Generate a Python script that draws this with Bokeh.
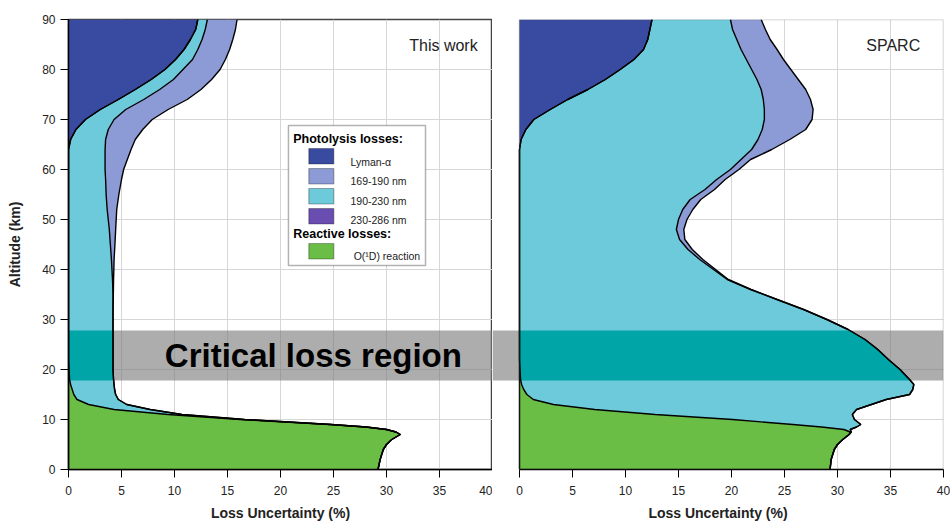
import numpy as np
from bokeh.plotting import figure
from bokeh.models import ColumnDataSource, Range1d, FixedTicker, BoxAnnotation, Label
from bokeh.layouts import row
from bokeh.embed import file_html
from bokeh.resources import INLINE

FONT = "Liberation Sans"

# ---------------- data ----------------
x_ticks = [0, 5, 10, 15, 20, 25, 30, 35, 40]
y_ticks = [0, 10, 20, 30, 40, 50, 60, 70, 80, 90]

# critical loss region (km)
critical_lo = 17.8
critical_hi = 27.8

# ---- "This work" panel ----
alt_this = [0, 2, 4, 5, 6, 7, 7.5, 8, 8.5, 9, 10, 11, 12, 13, 14, 15, 16, 17, 18, 20,
            22, 25, 28, 30, 32, 35, 38, 40, 42, 45, 48, 50, 52, 55, 58, 60, 62, 64, 66,
            68, 70, 72, 74, 76, 78, 80, 82, 84, 86, 88, 90]
this_lyman = [0, 0, 0, 0, 0, 0, 0, 0, 0, 0, 0, 0, 0, 0, 0, 0, 0, 0, 0, 0,
              0, 0, 0, 0, 0, 0, 0, 0, 0, 0, 0, 0, 0, 0, 0, 0, 0, 0, 0.2,
              0.7, 1.6, 3.0, 4.7, 6.3, 7.8, 9.1, 10.1, 10.9, 11.5, 12.0, 12.2]
this_o1d = [29.2, 29.4, 29.7, 30.0, 30.5, 31.3, 30.9, 30.0, 28.0, 24.6, 16.2, 9.4, 4.3, 1.9,
            0.8, 0.5, 0.35, 0.2, 0.1, 0.05,
            0, 0, 0, 0, 0, 0, 0, 0, 0, 0, 0, 0, 0, 0, 0, 0, 0, 0, 0,
            0, 0, 0, 0, 0, 0, 0, 0, 0, 0, 0, 0]
this_190_230 = [0, 0, 0, 0, 0, 0, 0, 0, 0.1, 0.2, 0.4, 1.3, 3.4, 3.6, 3.9, 3.95, 4.0, 4.1, 4.15, 4.15,
                4.2, 4.2, 4.2, 4.2, 4.2, 4.2, 4.15, 4.1, 4.05, 3.95, 3.85, 3.75, 3.65, 3.55, 3.5, 3.45,
                3.45, 3.45, 3.3, 3.05, 2.7, 2.4, 2.4, 2.3, 2.1, 1.7, 1.6, 1.3, 1.1, 0.9, 0.9]
this_169_190 = [0, 0, 0, 0, 0, 0, 0, 0, 0, 0, 0, 0, 0, 0, 0, 0, 0, 0, 0, 0,
                0, 0, 0, 0, 0, 0.03, 0.1, 0.18, 0.25, 0.43, 0.6, 0.75, 0.9, 1.2, 1.5, 1.75,
                2.1, 2.45, 2.8, 3.25, 3.6, 4.0, 4.1, 3.9, 3.6, 3.5, 3.1, 3.0, 2.9, 2.85, 2.8]

# ---- SPARC panel ----
alt_sparc = [0, 2, 4, 5, 6, 7, 7.5, 8, 8.5, 9, 10, 11, 12, 13, 14, 15, 16, 17, 18,
             20, 22, 24, 26, 28, 30, 32, 34, 36, 38, 40, 42, 44, 46, 48, 50, 52, 54,
             56, 58, 60, 62, 64, 66, 68, 70, 72, 74, 76, 78, 80, 82, 84, 86, 88, 90]
sparc_lyman = [0, 0, 0, 0, 0, 0, 0, 0, 0, 0, 0, 0, 0, 0, 0, 0, 0, 0, 0,
               0, 0, 0, 0, 0, 0, 0, 0, 0, 0, 0, 0, 0, 0, 0, 0, 0, 0,
               0, 0, 0, 0, 0, 0.15, 0.6, 1.35, 2.9, 4.55, 6.45, 8.1, 9.5, 10.8, 11.7, 12.1, 12.3, 12.5]
sparc_o1d = [29.3, 29.4, 29.7, 30.0, 30.5, 31.1, 31.2, 30.6, 28.5, 25.8, 20.1, 12.8, 7.1, 3.2,
             1.3, 0.7, 0.4, 0.2, 0.1,
             0.05, 0, 0, 0, 0, 0, 0, 0, 0, 0, 0, 0, 0, 0, 0, 0, 0, 0,
             0, 0, 0, 0, 0, 0, 0, 0, 0, 0, 0, 0, 0, 0, 0, 0, 0, 0]
sparc_190_230 = [0, 0, 0, 0, 0, 0, 0.1, 0.6, 3.3, 6.4, 11.5, 18.6, 24.7, 30.0, 33.3, 36.1, 36.7, 37.0, 36.7,
                 35.85, 34.8, 33.8, 32.6, 31.0, 29.0, 26.8, 24.3, 21.8, 19.6, 18.3, 17.0, 15.9, 15.1,
                 14.8, 15.0, 15.4, 16.1, 17.5, 18.6, 19.9, 20.9, 21.9, 22.35, 22.3, 21.75, 20.2,
                 18.45, 16.35, 14.3, 12.4, 10.6, 9.2, 8.4, 7.8, 7.4]
sparc_169_190 = [0, 0, 0, 0, 0, 0, 0, 0, 0, 0, 0, 0, 0, 0, 0, 0, 0, 0, 0,
                 0, 0, 0, 0, 0, 0, 0, 0, 0.05, 0.1, 0.2, 0.3, 0.4, 0.5, 0.7, 0.8, 0.95, 1.0,
                 0.9, 0.8, 0.8, 0.9, 1.9, 3.0, 4.1, 4.5, 4.6, 4.45, 4.2, 3.9, 3.7, 3.5, 3.4,
                 3.15, 3.1, 2.9]

legend_labels = ["Lyman-\u03b1", "169-190 nm", "190-230 nm", "230-286 nm"]
reactive_label = "O(\u00b9D) reaction"

# ---------------- style ----------------
C_LYMAN = "#384ba0"
C_169 = "#8c9bd6"
C_190 = "#6dcadb"
C_230 = "#6a4db0"
C_O1D = "#6abd45"
C_TEAL = "#00a5a8"
C_GRID = "#d6d6d6"
C_BORDER = "#444444"

legend_colors = [C_LYMAN, C_169, C_190, C_230]
stack_keys = ["lyman", "o1d", "uv190", "uv169"]
stack_colors = [C_LYMAN, C_O1D, C_190, C_169]

PX_PER_UNIT = 10.6
GAP_PX = 27
FIG_H = 523


def style_axes(p, show_y):
    for ax in p.xaxis:
        ax.ticker = FixedTicker(ticks=x_ticks)
        ax.axis_line_color = "black"
        ax.axis_line_width = 1.5
        ax.major_tick_line_color = "black"
        ax.major_tick_in = 0
        ax.major_tick_out = 8
        ax.minor_tick_line_color = None
        ax.major_label_text_font = FONT
        ax.major_label_text_font_size = "12px"
        ax.major_label_text_color = "#222222"
        ax.major_label_standoff = 8
        ax.axis_label = "Loss Uncertainty (%)"
        ax.axis_label_text_font = FONT
        ax.axis_label_text_font_style = "bold"
        ax.axis_label_text_font_size = "14px"
        ax.axis_label_text_color = "#222222"
        ax.axis_label_standoff = 7
    if show_y:
        for ax in p.yaxis:
            ax.ticker = FixedTicker(ticks=y_ticks)
            ax.axis_line_color = "black"
            ax.axis_line_width = 1.5
            ax.major_tick_line_color = "black"
            ax.major_tick_in = 0
            ax.major_tick_out = 8
            ax.minor_tick_line_color = None
            ax.major_label_text_font = FONT
            ax.major_label_text_font_size = "12px"
            ax.major_label_text_color = "#222222"
            ax.major_label_standoff = 5
            ax.axis_label = "Altitude (km)"
            ax.axis_label_text_font = FONT
            ax.axis_label_text_font_style = "bold"
            ax.axis_label_text_font_size = "14px"
            ax.axis_label_text_color = "#222222"
            ax.axis_label_standoff = 16
    p.xgrid.ticker = FixedTicker(ticks=x_ticks)
    p.ygrid.ticker = FixedTicker(ticks=y_ticks)
    for g in list(p.xgrid) + list(p.ygrid):
        g.grid_line_color = C_GRID
        g.grid_line_width = 1


def draw_profile(p, alt, lyman, o1d, uv190, uv169):
    src = ColumnDataSource(dict(alt=alt, lyman=lyman, o1d=o1d, uv190=uv190, uv169=uv169))
    p.harea_stack(stack_keys, y="alt", fill_color=stack_colors, source=src)
    # critical region overlay on the filled profile
    alt_a = np.asarray(alt, dtype=float)
    total = np.asarray(lyman) + np.asarray(o1d) + np.asarray(uv190) + np.asarray(uv169)
    inside = alt_a[(alt_a > critical_lo) & (alt_a < critical_hi)]
    band_alt = np.concatenate(([critical_lo], inside, [critical_hi]))
    band_tot = np.interp(band_alt, alt_a, total)
    p.harea(x1=0, x2=band_tot, y=band_alt, fill_color=C_TEAL)
    p.hline_stack(stack_keys, y="alt", line_color="black", line_width=1.4, source=src)


# ---------------- left panel ----------------
p1 = figure(width=492, height=FIG_H, x_range=Range1d(0, 40), y_range=Range1d(0, 90),
            output_backend="svg", toolbar_location=None,
            min_border_left=68, min_border_right=0, min_border_top=19, min_border_bottom=54)
p1.background_fill_color = "white"
p1.border_fill_color = "white"
p1.outline_line_color = C_BORDER
p1.outline_line_width = 1.5
style_axes(p1, True)

p1.add_layout(BoxAnnotation(bottom=critical_lo, top=critical_hi, fill_color="#7a7a7a",
                            fill_alpha=0.62, line_color=None, level="underlay"))
draw_profile(p1, alt_this, this_lyman, this_o1d, this_190_230, this_169_190)

p1.add_layout(Label(x=38.6, y=84.8, text="This work", text_align="right", text_baseline="middle",
                    text_font=FONT, text_font_size="16px", text_color="#222222"))
p1.add_layout(Label(x=23.1, y=22.9, text="Critical loss region", text_align="center",
                    text_baseline="middle", text_font=FONT, text_font_size="33px",
                    text_font_style="bold", text_color="black"))

# legend (built by hand, in data units of the left panel)
p1.add_layout(BoxAnnotation(left=20.75, right=33.68, bottom=40.8, top=68.8, fill_color="white",
                            fill_alpha=1, line_color="black", line_width=1.5))
p1.add_layout(Label(x=21.2, y=66.2, text="Photolysis losses:", text_align="left",
                    text_baseline="middle", text_font=FONT, text_font_size="12.5px",
                    text_font_style="bold", text_color="black"))
sw_top = [64.2, 60.2, 56.2, 52.2]
lab_y = [61.6, 57.7, 53.8, 49.9]
for lab, col, top, ly in zip(legend_labels, legend_colors, sw_top, lab_y):
    p1.add_layout(BoxAnnotation(left=22.67, right=25.03, top=top, bottom=top - 3.1,
                                fill_color=col, fill_alpha=1, line_color="black", line_width=1.2))
    p1.add_layout(Label(x=26.6, y=ly, text=lab, text_align="left", text_baseline="middle",
                        text_font=FONT, text_font_size="10.5px", text_color="#222222"))
p1.add_layout(Label(x=21.2, y=47.2, text="Reactive losses:", text_align="left",
                    text_baseline="middle", text_font=FONT, text_font_size="12.5px",
                    text_font_style="bold", text_color="black"))
p1.add_layout(BoxAnnotation(left=22.67, right=25.03, top=45.2, bottom=42.1,
                            fill_color=C_O1D, fill_alpha=1, line_color="black", line_width=1.2))
p1.add_layout(Label(x=26.9, y=42.8, text=reactive_label, text_align="left", text_baseline="middle",
                    text_font=FONT, text_font_size="10.5px", text_color="#222222"))

# ---------------- right panel ----------------
p2 = figure(width=458, height=FIG_H, x_range=Range1d(-GAP_PX / PX_PER_UNIT, 40), y_range=Range1d(0, 90),
            output_backend="svg", toolbar_location=None, y_axis_location=None,
            min_border_left=0, min_border_right=7, min_border_top=19, min_border_bottom=54)
p2.background_fill_color = "white"
p2.border_fill_color = "white"
p2.outline_line_color = None
style_axes(p2, False)
p2.xaxis.bounds = (0, 40)
for g in p2.ygrid:
    if "cross_bounds" in g.properties():
        g.cross_bounds = (0, 40)

p2.add_layout(BoxAnnotation(bottom=critical_lo, top=critical_hi, right=40, fill_color="#7a7a7a",
                            fill_alpha=0.62, line_color=None, level="underlay"))
draw_profile(p2, alt_sparc, sparc_lyman, sparc_o1d, sparc_190_230, sparc_169_190)
p2.add_layout(BoxAnnotation(left=0, right=40, bottom=0, top=90, fill_alpha=0,
                            line_color=C_BORDER, line_width=1.5))
p2.add_layout(Label(x=37.8, y=84.8, text="SPARC", text_align="right", text_baseline="middle",
                    text_font=FONT, text_font_size="16px", text_color="#222222"))

layout = row(p1, p2)
open("out.html", "w").write(file_html(layout, INLINE))
